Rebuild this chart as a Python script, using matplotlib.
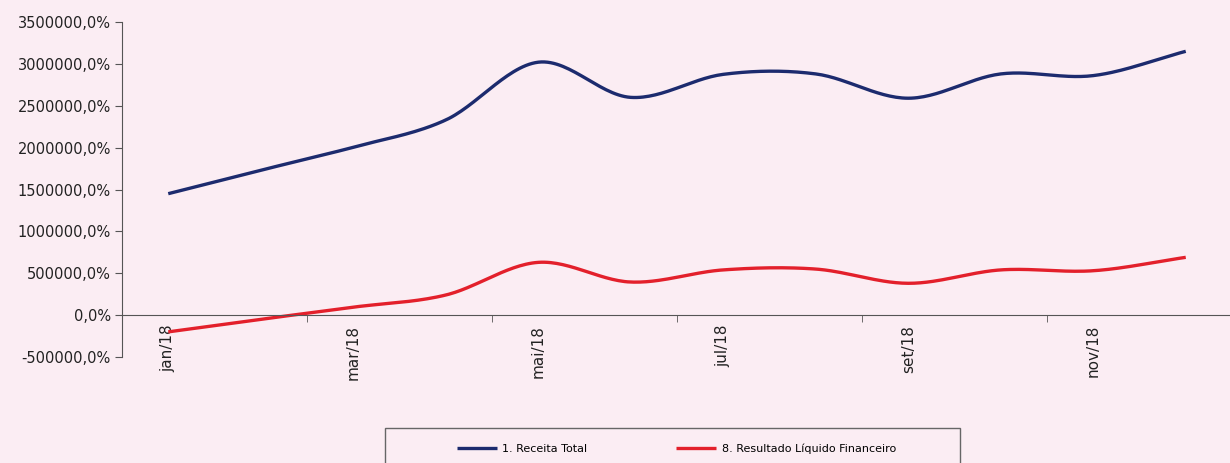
import numpy as np
import matplotlib.pyplot as plt
from matplotlib.patches import Rectangle
from matplotlib.ticker import FuncFormatter

months = ["jan/18", "fev/18", "mar/18", "abr/18", "mai/18", "jun/18",
          "jul/18", "ago/18", "set/18", "out/18", "nov/18", "dez/18"]
receita_total = [1450000, 1730000, 2005000, 2330000, 3020000, 2600000,
                 2875000, 2880000, 2590000, 2880000, 2860000, 3150000]
resultado_liquido = [-200000, -50000, 95000, 240000, 630000, 395000,
                     540000, 550000, 380000, 540000, 530000, 690000]

BG = "#fbedf3"
BLUE = "#1c2b6e"
RED = "#e3202b"


def smooth(y, steps=30):
    # Catmull-Rom curve through the monthly points (like a smoothed line chart)
    y = np.asarray(y, dtype=float)
    x = np.arange(len(y), dtype=float)
    px = np.concatenate([[2 * x[0] - x[1]], x, [2 * x[-1] - x[-2]]])
    py = np.concatenate([[2 * y[0] - y[1]], y, [2 * y[-1] - y[-2]]])
    xs, ys = [], []
    t = np.linspace(0, 1, steps, endpoint=False)
    for i in range(1, len(px) - 2):
        for p, out in ((px, xs), (py, ys)):
            p0, p1, p2, p3 = p[i - 1], p[i], p[i + 1], p[i + 2]
            out.append(0.5 * (2 * p1 + (-p0 + p2) * t
                              + (2 * p0 - 5 * p1 + 4 * p2 - p3) * t ** 2
                              + (-p0 + 3 * p1 - 3 * p2 + p3) * t ** 3))
    xs.append([x[-1]])
    ys.append([y[-1]])
    return np.concatenate(xs), np.concatenate(ys)


fig = plt.figure(figsize=(12.3, 4.63), dpi=100, facecolor=BG)
ax = fig.add_axes([122 / 1230, 1 - 357 / 463, 1110 / 1230, 335 / 463])
ax.set_facecolor(BG)

xb, yb = smooth(receita_total)
xr, yr = smooth(resultado_liquido)
l1, = ax.plot(xb, yb, color=BLUE, lw=2.4, solid_capstyle="butt", label="1. Receita Total")
l2, = ax.plot(xr, yr, color=RED, lw=2.4, solid_capstyle="butt", label="8. Resultado Líquido Financeiro")

ax.set_xlim(-0.5, len(months) - 0.5)
ax.set_ylim(-500000, 3500000)
ax.set_yticks(np.arange(-500000, 3500001, 500000))
ax.yaxis.set_major_formatter(FuncFormatter(lambda v, _: f"{v:.1f}%".replace(".", ",")))

for s in ("top", "right"):
    ax.spines[s].set_visible(False)
ax.spines["left"].set_color("#555555")
ax.spines["bottom"].set_position(("data", 0))
ax.spines["bottom"].set_color("#555555")

ax.set_xticks(range(0, len(months), 2))
ax.set_xticklabels(months[::2], rotation=90, va="top", ha="center")
ax.set_xticks(np.arange(1.5, len(months) - 1, 2), minor=True)
ax.tick_params(axis="x", which="major", length=0, pad=7, labelsize=11, labelcolor="#222222")
ax.tick_params(axis="x", which="minor", length=5, color="#555555")
ax.tick_params(axis="y", length=5, color="#555555", labelsize=10.5, labelcolor="#222222", pad=3)

# legend box at the bottom, partly cut by the figure edge
fig.patches.append(Rectangle((385 / 1230, -0.05), 575 / 1230, 0.05 + (463 - 428) / 463,
                             transform=fig.transFigure, facecolor=BG,
                             edgecolor="#666666", lw=1.0))
fig.legend(handles=[l1, l2], loc="center", bbox_to_anchor=(0.55, 1 - 449 / 463),
           ncol=2, frameon=False, fontsize=8, handlelength=3.6,
           columnspacing=8.0, handletextpad=0.5)

fig.savefig("out.png", dpi=100, facecolor=BG)
